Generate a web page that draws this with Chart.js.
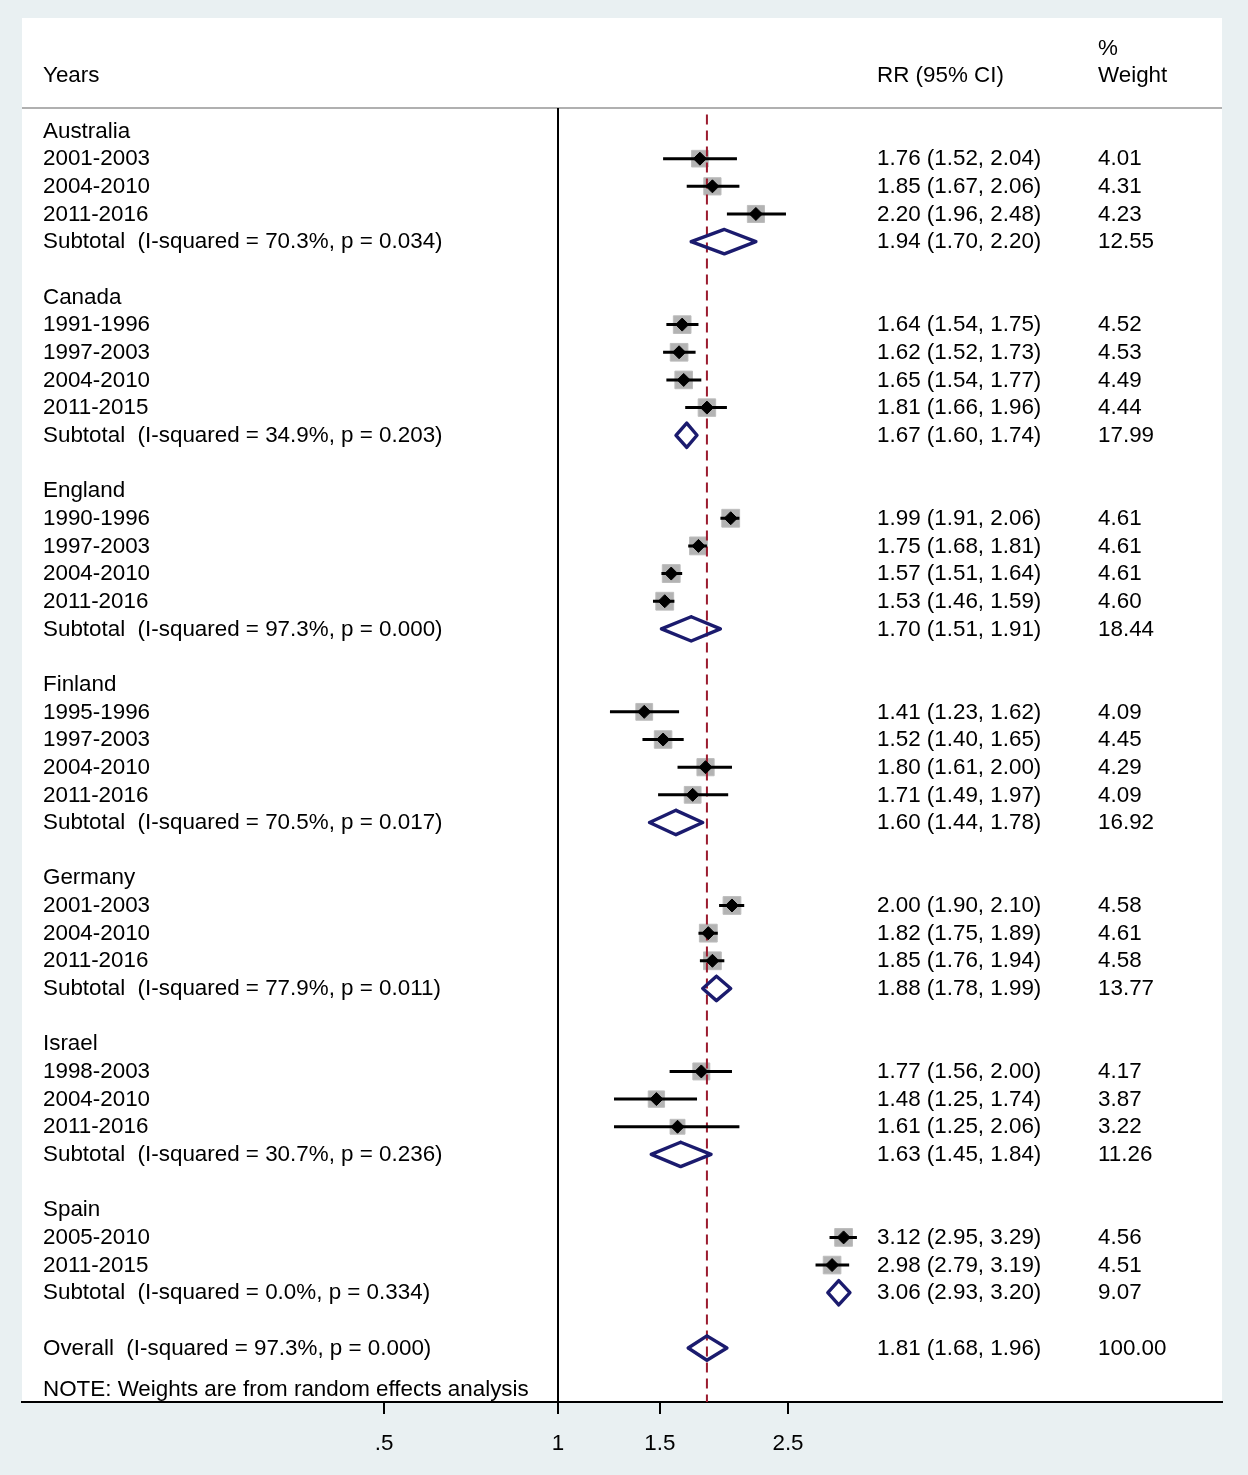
<!DOCTYPE html>
<html>
<head>
<meta charset="utf-8">
<script src="https://cdn.jsdelivr.net/npm/chart.js@4.4.1/dist/chart.umd.min.js"></script>
<style>
html,body{margin:0;padding:0;background:#e9f0f2;}
#wrap{width:1248px;height:1475px;position:relative;}
</style>
</head>
<body>
<div id="wrap"><canvas id="c"></canvas></div>
<script>
// ---------------- DATA ----------------
const countries = ['Australia', 'Canada', 'England', 'Finland', 'Germany', 'Israel', 'Spain'];
const periods = [
  ['2001-2003', '2004-2010', '2011-2016'],
  ['1991-1996', '1997-2003', '2004-2010', '2011-2015'],
  ['1990-1996', '1997-2003', '2004-2010', '2011-2016'],
  ['1995-1996', '1997-2003', '2004-2010', '2011-2016'],
  ['2001-2003', '2004-2010', '2011-2016'],
  ['1998-2003', '2004-2010', '2011-2016'],
  ['2005-2010', '2011-2015']
];
const studyRR = [
  [1.76, 1.85, 2.20],
  [1.64, 1.62, 1.65, 1.81],
  [1.99, 1.75, 1.57, 1.53],
  [1.41, 1.52, 1.80, 1.71],
  [2.00, 1.82, 1.85],
  [1.77, 1.48, 1.61],
  [3.12, 2.98]
];
const studyLow = [
  [1.52, 1.67, 1.96],
  [1.54, 1.52, 1.54, 1.66],
  [1.91, 1.68, 1.51, 1.46],
  [1.23, 1.40, 1.61, 1.49],
  [1.90, 1.75, 1.76],
  [1.56, 1.25, 1.25],
  [2.95, 2.79]
];
const studyHigh = [
  [2.04, 2.06, 2.48],
  [1.75, 1.73, 1.77, 1.96],
  [2.06, 1.81, 1.64, 1.59],
  [1.62, 1.65, 2.00, 1.97],
  [2.10, 1.89, 1.94],
  [2.00, 1.74, 2.06],
  [3.29, 3.19]
];
const studyWeight = [
  [4.01, 4.31, 4.23],
  [4.52, 4.53, 4.49, 4.44],
  [4.61, 4.61, 4.61, 4.60],
  [4.09, 4.45, 4.29, 4.09],
  [4.58, 4.61, 4.58],
  [4.17, 3.87, 3.22],
  [4.56, 4.51]
];
const subRR     = [1.94, 1.67, 1.70, 1.60, 1.88, 1.63, 3.06];
const subLow    = [1.70, 1.60, 1.51, 1.44, 1.78, 1.45, 2.93];
const subHigh   = [2.20, 1.74, 1.91, 1.78, 1.99, 1.84, 3.20];
const subWeight = [12.55, 17.99, 18.44, 16.92, 13.77, 11.26, 9.07];
const subI2     = [70.3, 34.9, 97.3, 70.5, 77.9, 30.7, 0.0];
const subP      = [0.034, 0.203, 0.000, 0.017, 0.011, 0.236, 0.334];
const overallRR = 1.81, overallLow = 1.68, overallHigh = 1.96, overallWeight = 100.00;
const overallI2 = 97.3, overallP = 0.000;
const tickValues = [0.5, 1, 1.5, 2.5];
const tickLabels = ['.5', '1', '1.5', '2.5'];
const headerYears = 'Years';
const headerRR = 'RR (95% CI)';
const headerPct = '%';
const headerWeight = 'Weight';
const noteText = 'NOTE: Weights are from random effects analysis';

// ---------------- BUILD ROWS ----------------
const fmtCI = (e, lo, hi) => `${e.toFixed(2)} (${lo.toFixed(2)}, ${hi.toFixed(2)})`;
const texts = [];
const squares = [], points = [], ciLines = [], diamonds = [];
const DH = 0.44;
function addDiamond(e, lo, hi, r) {
  diamonds.push({x: lo, y: r}, {x: e, y: r - DH}, {x: hi, y: r}, {x: e, y: r + DH}, {x: lo, y: r}, {x: e, y: r - DH}, {x: lo, y: null});
}
let row = 0;
countries.forEach((c, g) => {
  texts.push({row: row, a: c});
  row++;
  periods[g].forEach((p, k) => {
    const e = studyRR[g][k], lo = studyLow[g][k], hi = studyHigh[g][k], w = studyWeight[g][k];
    texts.push({row: row, a: p, b: fmtCI(e, lo, hi), c: w.toFixed(2)});
    squares.push({x: e, y: row, w: w});
    points.push({x: e, y: row});
    ciLines.push({x: lo, y: row}, {x: hi, y: row}, {x: hi, y: null});
    row++;
  });
  texts.push({row: row, a: `Subtotal  (I-squared = ${subI2[g].toFixed(1)}%, p = ${subP[g].toFixed(3)})`,
              b: fmtCI(subRR[g], subLow[g], subHigh[g]), c: subWeight[g].toFixed(2)});
  addDiamond(subRR[g], subLow[g], subHigh[g], row);
  row++;
  row++; // blank line
});
const overallRow = row;
texts.push({row: overallRow, a: `Overall  (I-squared = ${overallI2.toFixed(1)}%, p = ${overallP.toFixed(3)})`,
            b: fmtCI(overallRR, overallLow, overallHigh), c: overallWeight.toFixed(2)});
addDiamond(overallRR, overallLow, overallHigh, overallRow);
texts.push({row: overallRow + 1.5, a: noteText});
texts.push({row: -2, a: headerYears, b: headerRR, c: headerWeight});
texts.push({row: -3, c: headerPct});

// ---------------- LAYOUT ----------------
const W = 1248, H = 1475;
const PL = 22, PR = 26, PT = 18, AXIS_H = 73;
const pxPerLn = 251, oneX = 558;
const xMin = Math.exp((PL - oneX) / pxPerLn);
const xMax = Math.exp((W - PR - oneX) / pxPerLn);
const rowPx = 27.66, row0 = 131;
const yMin = -(row0 - PT) / rowPx;
const yMax = yMin + (H - AXIS_H - PT) / rowPx;
const headerRuleRow = (108 - row0) / rowPx;
const FONT = '22.4px "Liberation Sans", Arial, sans-serif';

const bgPlugin = {
  id: 'bg',
  beforeDraw(chart) {
    const ctx = chart.ctx, a = chart.chartArea;
    ctx.save();
    ctx.fillStyle = '#e9f0f2';
    ctx.fillRect(0, 0, chart.width, chart.height);
    ctx.fillStyle = '#ffffff';
    ctx.fillRect(a.left, a.top, a.right - a.left, a.bottom - a.top);
    ctx.restore();
  }
};
const textPlugin = {
  id: 'texts',
  afterDraw(chart) {
    const ctx = chart.ctx, y = chart.scales.y, a = chart.chartArea;
    ctx.save();
    ctx.font = FONT;
    ctx.fillStyle = '#000';
    ctx.textBaseline = 'middle';
    ctx.textAlign = 'left';
    texts.forEach(t => {
      const py = y.getPixelForValue(t.row) + 0.5;
      if (t.a) ctx.fillText(t.a, a.left + 21, py);
      if (t.b) ctx.fillText(t.b, a.left + 855, py);
      if (t.c) ctx.fillText(t.c, a.left + 1076, py);
    });
    ctx.restore();
  }
};

new Chart(document.getElementById('c'), {
  type: 'scatter',
  data: {
    datasets: [
      { // black point estimates
        data: points, order: 0, pointStyle: 'rectRot', pointRadius: 6.5,
        backgroundColor: '#000', borderColor: '#000', borderWidth: 1, showLine: false
      },
      { // confidence intervals
        data: ciLines, order: 1, showLine: true, borderColor: '#000', borderWidth: 3,
        pointRadius: 0, spanGaps: false
      },
      { // pooled diamonds
        data: diamonds, order: 1, showLine: true, borderColor: '#1b1b6e', borderWidth: 3.4,
        pointRadius: 0, spanGaps: false, borderJoinStyle: 'round', borderCapStyle: 'round'
      },
      { // overall effect dashed line
        data: [{x: overallRR, y: -0.6}, {x: overallRR, y: yMax}], order: 2, showLine: true,
        borderColor: '#9b1b2e', borderWidth: 2, borderDash: [10, 6], pointRadius: 0
      },
      { // weight squares
        data: squares, order: 3, pointStyle: 'rect',
        pointRadius: c => (8.3 * Math.sqrt(c.raw.w)) / Math.SQRT2,
        backgroundColor: '#b3b3b3', borderColor: '#bdbdbd', borderWidth: 1, showLine: false
      },
      { // null line at 1
        data: [{x: 1, y: headerRuleRow}, {x: 1, y: yMax}], order: 4, showLine: true,
        borderColor: '#000', borderWidth: 2, pointRadius: 0
      },
      { // header rule
        data: [{x: xMin, y: headerRuleRow}, {x: xMax, y: headerRuleRow}], order: 4, showLine: true,
        borderColor: '#b0b0b0', borderWidth: 2, pointRadius: 0
      }
    ]
  },
  options: {
    responsive: true,
    maintainAspectRatio: false,
    animation: false,
    events: [],
    layout: { padding: { left: PL, right: PR, top: PT, bottom: 0 } },
    plugins: { legend: { display: false }, tooltip: { enabled: false } },
    scales: {
      x: {
        type: 'logarithmic',
        min: xMin, max: xMax, bounds: 'data',
        afterBuildTicks: s => { s.ticks = tickValues.map(v => ({value: v})); },
        afterFit: s => { s.height = AXIS_H; },
        ticks: {
          autoSkip: false, maxRotation: 0, padding: 16, color: '#000',
          font: { family: '"Liberation Sans", Arial, sans-serif', size: 22.4 },
          callback: (v) => { const i = tickValues.indexOf(v); return i >= 0 ? tickLabels[i] : ''; }
        },
        grid: { display: true, drawOnChartArea: false, drawTicks: true, tickLength: 12, color: '#000', lineWidth: 2 },
        border: { display: true, color: '#000', width: 2 }
      },
      y: {
        type: 'linear', reverse: true, min: yMin, max: yMax, display: false
      }
    }
  },
  plugins: [bgPlugin, textPlugin]
});
</script>
</body>
</html>
